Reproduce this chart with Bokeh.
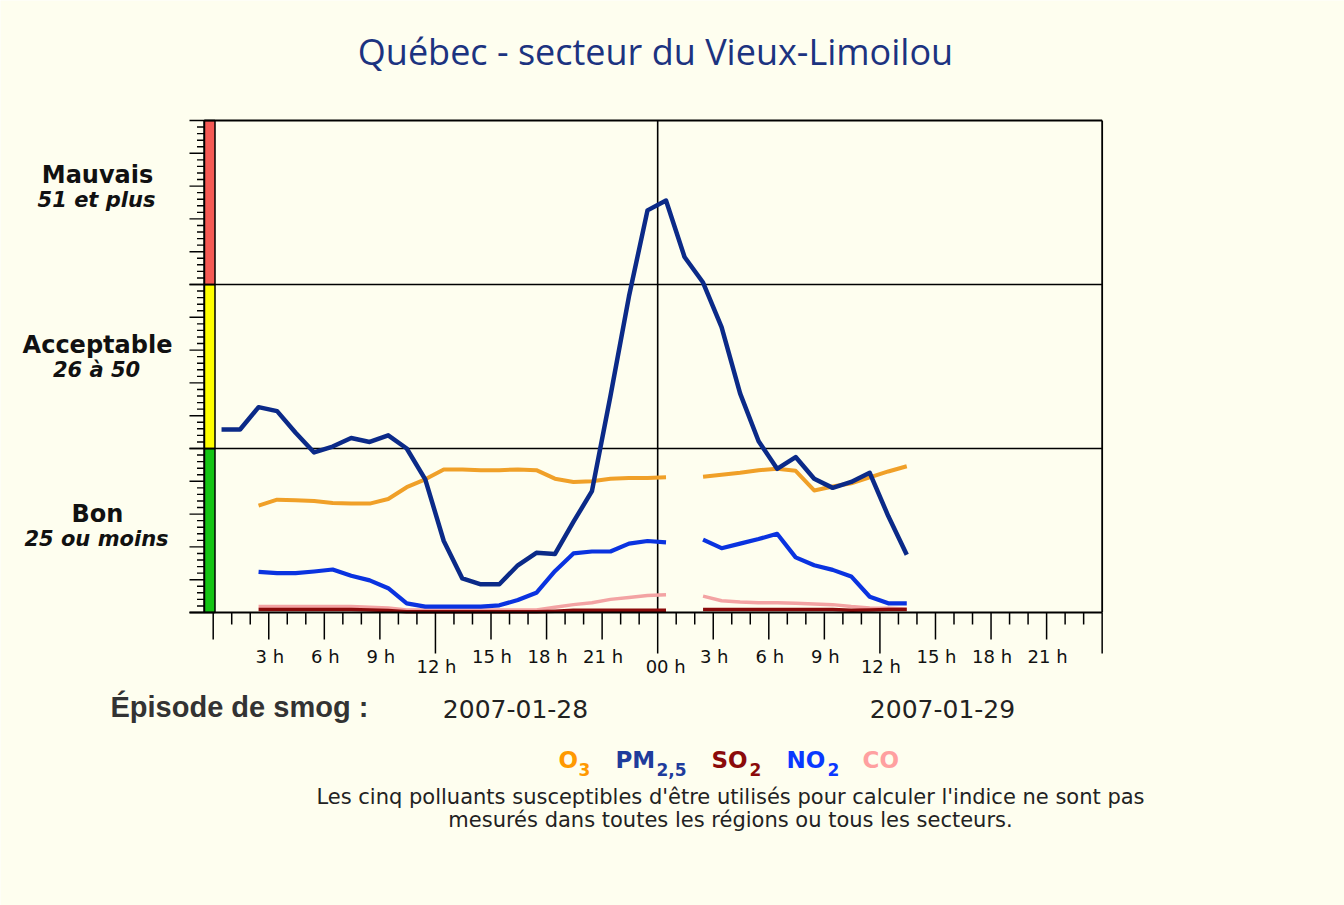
import numpy as np
from bokeh.plotting import figure
from bokeh.models import Range1d
from bokeh.core.properties import value
from bokeh.embed import file_html
from bokeh.resources import INLINE

# ---------------- data (hourly index from 2007-01-28 00 h) ----------------
hours = list(range(38))
pm25 = [27.9, 27.9, 31.3, 30.7, 27.4, 24.4, 25.3, 26.6, 26.0, 27.0, 25.0, 20.3,
        10.9, 5.2, 4.3, 4.3, 7.2, 9.1, 8.9, 13.8, 18.5, 33.0, 48.2, 61.3, 62.8,
        54.2, 50.3, 43.5, 33.4, 26.1, 21.9, 23.7, 20.4, 19.0, 19.9, 21.3, 14.7, 8.8]
o3 = [None, None, 16.3, 17.2, 17.1, 17.0, 16.7, 16.6, 16.6, 17.3, 19.1, 20.3,
      21.8, 21.8, 21.7, 21.7, 21.8, 21.7, 20.4, 19.9, 20.0, 20.4, 20.5, 20.5, 20.6,
      None, 20.7, 21.0, 21.3, 21.7, 21.9, 21.6, 18.6, 19.2, 19.7, 20.6, 21.5, 22.3]
no2 = [None, None, 6.2, 6.0, 6.0, 6.25, 6.55, 5.6, 4.9, 3.7, 1.4, 0.9,
       0.9, 0.9, 0.9, 1.1, 1.9, 3.0, 6.3, 9.0, 9.3, 9.3, 10.5, 10.9, 10.7,
       None, 11.1, 9.8, 10.5, 11.2, 12.0, 8.4, 7.2, 6.5, 5.5, 2.4, 1.4, 1.4]
co = [None, None, 0.9, 0.9, 0.9, 0.9, 0.9, 0.9, 0.8, 0.7, 0.4, 0.4,
      0.4, 0.4, 0.4, 0.4, 0.4, 0.4, 0.8, 1.2, 1.5, 2.0, 2.3, 2.6, 2.7,
      None, 2.5, 1.8, 1.6, 1.5, 1.5, 1.4, 1.3, 1.2, 0.9, 0.7, 0.65, 0.55]
so2 = [None, None, 0.45, 0.45, 0.45, 0.45, 0.45, 0.45, 0.4, 0.3, 0.1, 0.1,
       0.1, 0.1, 0.1, 0.1, 0.1, 0.1, 0.2, 0.35, 0.35, 0.35, 0.35, 0.35, 0.35,
       None, 0.45, 0.45, 0.45, 0.45, 0.45, 0.45, 0.45, 0.45, 0.35, 0.4, 0.45, 0.45]

band_bottom = [0, 25, 50]
band_top = [25, 50, 75]
band_colors = ["#14c414", "#ffff00", "#f55a55"]
band_names = ["Bon", "Acceptable", "Mauvais"]
band_ranges = ["25 ou moins", "26 à 50", "51 et plus"]

tick_hours = [3, 6, 9, 12, 15, 18, 21, 24, 27, 30, 33, 36, 39, 42, 45]
tick_labels = ["3 h", "6 h", "9 h", "12 h", "15 h", "18 h", "21 h", "00 h",
               "3 h", "6 h", "9 h", "12 h", "15 h", "18 h", "21 h"]
dates = ["2007-01-28", "2007-01-29"]

title_text = "Québec - secteur du Vieux-Limoilou"
note_lines = ["Les cinq polluants susceptibles d'être utilisés pour calculer l'indice ne sont pas",
              "mesurés dans toutes les régions ou tous les secteurs."]

# ---------------- layout ----------------
W, H = 1344, 905
X0, Y0 = 212.7, 612.0      # pixel of hour 0 / index value 0
SX, SY = 18.52, 6.56       # pixels per hour / per index unit
BG = "#fefeef"

p = figure(width=W, height=H, output_backend="svg", toolbar_location=None,
           x_range=Range1d(-X0 / SX, (W - X0) / SX),
           y_range=Range1d((Y0 - H) / SY, Y0 / SY),
           x_axis_location=None, y_axis_location=None, min_border=0)
p.outline_line_color = None
p.background_fill_color = BG
p.border_fill_color = BG
p.xgrid.visible = False
p.ygrid.visible = False


def hx(px):  # pixel x -> hour units
    return (px - X0) / SX


def vy(py):  # pixel y -> index units
    return (Y0 - py) / SY


def txt(x, y, s, size, color, font="DejaVu Sans", style="normal", align="center",
        baseline="alphabetic"):
    p.text(x=[hx(x)], y=[vy(y)], text=[s], text_font=value(font),
           text_font_size=f"{size}px", text_font_style=style, text_color=color,
           text_align=align, text_baseline=baseline)


left_frame = hx(203.8)
tick_left_major = hx(189)
tick_left_minor = hx(196.5)

# colour band bar
p.quad(left=left_frame, right=hx(214.5), bottom=band_bottom, top=band_top,
       fill_color=band_colors, line_color="black", line_width=1.5)

# horizontal band separators and midnight line
p.segment(x0=tick_left_major, x1=48, y0=[25, 50], y1=[25, 50], line_color="black", line_width=1.6)
p.segment(x0=[24], x1=[24], y0=[0], y1=[75], line_color="black", line_width=1.6)

# series
x = np.array(hours, dtype=float) + 0.45


def arr(a):
    return np.array(a, dtype=float)


p.line(x, arr(co), line_color="#f3a3a3", line_width=3.5, line_join="round")
p.line(x, arr(so2), line_color="#8a0a0a", line_width=3.5, line_join="round")
p.line(x, arr(no2), line_color="#0a33e0", line_width=4.2, line_join="round")
p.line(x, arr(o3), line_color="#f0a028", line_width=4, line_join="round")
p.line(x, arr(pm25), line_color="#0b2a88", line_width=4.5, line_join="round")

# frame
p.segment(x0=[left_frame, tick_left_major, 48], x1=[48, 48, 48],
          y0=[75, 0, 0], y1=[75, 0, 75], line_color="black", line_width=1.8)
p.segment(x0=[left_frame], x1=[left_frame], y0=[0], y1=[75], line_color="black", line_width=1.8)

# y ticks
yv = np.arange(0, 76)
ylen_left = np.where(yv % 5 == 0, tick_left_major, tick_left_minor)
p.segment(x0=ylen_left, x1=left_frame, y0=yv, y1=yv, line_color="black", line_width=1.4)

# x ticks
xh = np.arange(0, 49)
xlen = np.where(np.isin(xh, [12, 24, 36, 48]), 41, np.where(xh % 3 == 0, 27, 12))
p.segment(x0=xh, x1=xh, y0=0, y1=-xlen / SY, line_color="black", line_width=1.5)

# x tick labels
for h, lab in zip(tick_hours, tick_labels):
    low = h % 12 == 0
    p.text(x=[h], y=[vy(666 if low else 656)], text=[lab],
           text_font=value("DejaVu Sans"), text_font_size="18px",
           text_color="#111111", text_align="center", text_baseline="alphabetic",
           x_offset=8 if lab == "00 h" else 1)

# title
txt(655, 51, title_text, 36, "#1c3380", font="Open Sans")

# band labels on the left
name_base = {"Mauvais": 174, "Acceptable": 344, "Bon": 513}
for nm, rg in zip(band_names, band_ranges):
    b = name_base[nm]
    txt(97, b, nm, 24, "#111111", style="bold")
    txt(96, b + 25, rg, 21, "#111111", style="bold italic")

# bottom texts
txt(110, 706, "Épisode de smog :", 29, "#333333", font="Liberation Sans", style="bold", align="left")
txt(515, 708, dates[0], 25, "#222222")
txt(942, 708, dates[1], 25, "#222222")

# legend with subscripts
legend_items = [("O", "3", "#ff9900", 558, 578),
                ("PM", "2,5", "#1f3c9c", 615, 656),
                ("SO", "2", "#8b0a0a", 711, 749),
                ("NO", "2", "#0a38ff", 786, 827),
                ("CO", "", "#ffa0a0", 862, 0)]
for main, sub, col, xm, xs in legend_items:
    txt(xm, 759, main, 23, col, style="bold", align="left")
    if sub:
        txt(xs, 769, sub, 17, col, style="bold", align="left")

txt(730, 796, note_lines[0], 21, "#222222")
txt(730, 819, note_lines[1], 21, "#222222")

open("out.html", "w").write(file_html(p, INLINE))
